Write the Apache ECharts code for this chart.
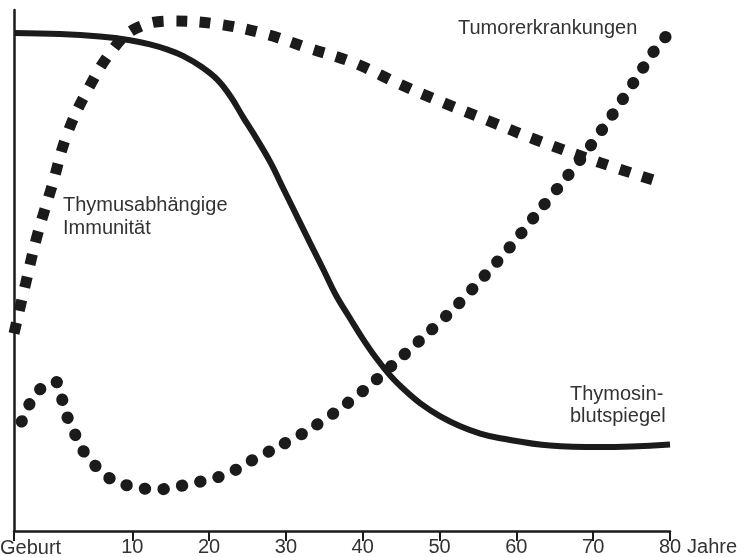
<!DOCTYPE html>
<html>
<head>
<meta charset="utf-8">
<script src="https://cdn.jsdelivr.net/npm/echarts@6/dist/echarts.min.js"></script>
<style>
  html, body { margin: 0; padding: 0; background: #fff; }
  #chart { width: 745px; height: 557px; }
</style>
</head>
<body>
<div id="chart"></div>
<script>
// x axis: years, "Geburt" sits a little left of 0 on the drawing
const ageMin = -5.4;
const ageMax = 80;
const tickYears = [10, 20, 30, 40, 50, 60, 70, 80];

// Thymosin-Blutspiegel (solid line)
const thymosinAge = [-5.4, 0.6, 5.8, 9.7, 12.3, 14.6, 16.6, 19.0, 21.1, 22.8, 24.4, 26.1, 28.0, 29.7, 31.5, 33.2, 34.9, 36.5, 38.4, 40.1, 41.8, 43.6, 45.5, 47.5, 50.1, 52.7, 55.3, 57.9, 64.4, 70.9, 80];
const thymosinLevel = [95.6, 95.4, 94.9, 94.2, 93.4, 92.4, 91.2, 89.1, 86.6, 83.4, 79.5, 75.5, 70.7, 65.6, 60.2, 55.1, 50.1, 45.3, 40.7, 36.7, 33.1, 29.8, 27.0, 24.5, 22.0, 20.1, 18.7, 17.8, 16.4, 16.1, 16.6];

// Thymusabhängige Immunität (square dots)
const immunityAge = [-5.4, -3.9, -2.4, -0.4, 1.5, 4.2, 7.5, 10.5, 15.2, 21.1, 27.3, 32.9, 38.8, 44.9, 50.5, 56.6, 62.7, 70.9, 78.0];
const immunityLevel = [37.9, 47.4, 56.6, 66.5, 76.1, 84.7, 92.5, 96.5, 97.9, 97.3, 95.4, 92.7, 89.9, 85.7, 82.2, 78.6, 75.0, 70.7, 67.3];

// Tumorerkrankungen (round dots)
const tumorAge = [-4.4, -3.4, -2.0, 0.0, 0.8, 1.4, 2.3, 3.2, 4.7, 6.4, 8.8, 11.2, 13.6, 16.1, 18.6, 21.1, 23.4, 25.4, 28.9, 32.4, 36.7, 40.7, 44.5, 48.5, 52.2, 55.8, 59.4, 62.7, 66.1, 69.3, 72.5, 75.4, 78.2, 79.9];
const tumorLevel = [21.0, 24.3, 27.2, 28.7, 25.6, 22.4, 19.5, 16.3, 13.4, 10.7, 9.0, 8.2, 8.0, 8.6, 9.4, 10.3, 11.7, 13.4, 16.1, 18.9, 23.1, 27.7, 32.7, 38.0, 43.2, 48.9, 54.9, 61.0, 67.1, 73.2, 79.9, 86.4, 92.7, 95.6];

const ink = "#1b1b1b";
const textColor = "#333";
const font = "Liberation Sans";

const pairs = (xs, ys) => xs.map((x, i) => [x, ys[i]]);

const chart = echarts.init(document.getElementById("chart"));
chart.setOption({
  animation: false,
  backgroundColor: "#fff",
  grid: { left: 14, right: 75, top: 10, bottom: 24 },
  xAxis: {
    type: "value",
    min: ageMin,
    max: ageMax,
    name: "Jahre",
    nameLocation: "end",
    nameGap: 8,
    nameTextStyle: {
      color: textColor, fontFamily: font, fontSize: 20,
      align: "left", verticalAlign: "top", padding: [6, 0, 0, 0],
    },
    axisLine: { show: true, lineStyle: { color: ink, width: 2.5 } },
    axisTick: {
      show: true, length: 10, inside: false,
      customValues: [ageMin].concat(tickYears),
      lineStyle: { color: ink, width: 2 },
    },
    axisLabel: {
      customValues: tickYears,
      color: textColor, fontFamily: font, fontSize: 20, margin: 6,
    },
    splitLine: { show: false },
  },
  yAxis: {
    type: "value",
    min: 0,
    max: 100,
    axisLine: { show: true, onZero: false, lineStyle: { color: ink, width: 2.5 } },
    axisTick: { show: false },
    axisLabel: { show: false },
    splitLine: { show: false },
  },
  graphic: [
    { type: "text", left: 0, top: 538, style: { text: "Geburt", fill: textColor, font: `20px "${font}"` } },
    { type: "text", left: 458, top: 18, style: { text: "Tumorerkrankungen", fill: textColor, font: `20px "${font}"` } },
    { type: "text", left: 63, top: 194, style: { text: "Thymusabhängige\nImmunität", fill: textColor, font: `20px "${font}"`, lineHeight: 23 } },
    { type: "text", left: 570, top: 383, style: { text: "Thymosin-\nblutspiegel", fill: textColor, font: `20px "${font}"`, lineHeight: 22 } },
  ],
  series: [
    {
      name: "Thymosinblutspiegel",
      type: "line",
      smooth: 0.4,
      showSymbol: false,
      clip: false,
      lineStyle: { color: ink, width: 6 },
      data: pairs(thymosinAge, thymosinLevel),
    },
    {
      name: "Thymusabhängige Immunität",
      type: "line",
      smooth: 0.4,
      showSymbol: false,
      clip: false,
      lineStyle: { color: ink, width: 11, type: [11, 12.5], cap: "butt" },
      data: pairs(immunityAge, immunityLevel),
    },
    {
      name: "Tumorerkrankungen",
      type: "line",
      smooth: 0.3,
      showSymbol: false,
      clip: false,
      lineStyle: { color: ink, width: 12, type: [0.5, 18.2], cap: "round" },
      data: pairs(tumorAge, tumorLevel),
    },
  ],
});
</script>
</body>
</html>
